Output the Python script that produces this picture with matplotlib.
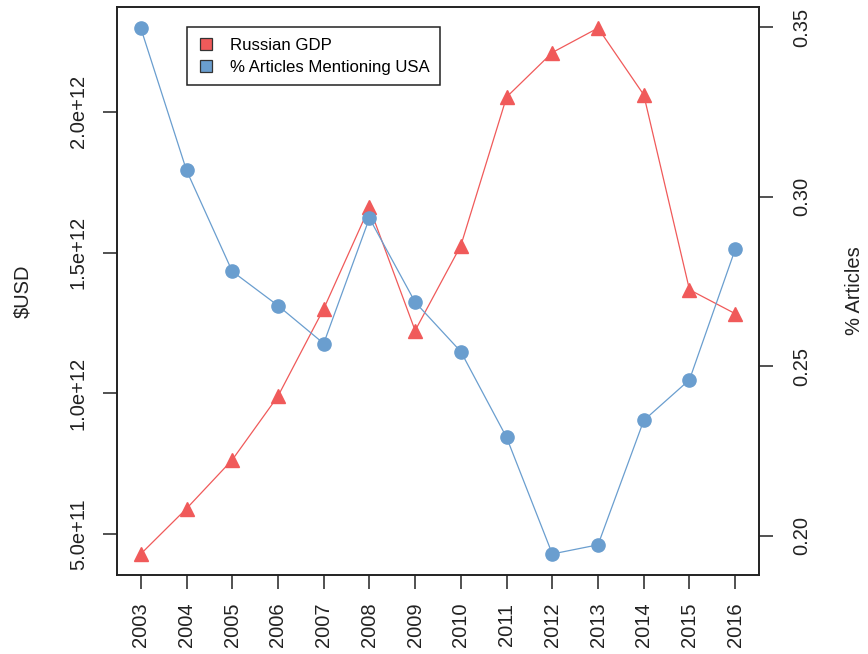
import matplotlib
matplotlib.use("Agg")
import matplotlib.pyplot as plt
from matplotlib.lines import Line2D

plt.rcParams['font.family'] = ['Liberation Sans', 'DejaVu Sans']

years = [2003, 2004, 2005, 2006, 2007, 2008, 2009,
         2010, 2011, 2012, 2013, 2014, 2015, 2016]
gdp_usd = [0.430e12, 0.591e12, 0.764e12, 0.990e12, 1.300e12, 1.661e12, 1.223e12,
           1.525e12, 2.052e12, 2.210e12, 2.297e12, 2.060e12, 1.368e12, 1.283e12]
pct_usa = [0.3498, 0.3078, 0.2780, 0.2679, 0.2567, 0.2937, 0.2689,
           0.2543, 0.2290, 0.1946, 0.1973, 0.2340, 0.2460, 0.2845]

gdp_ticks = [5.0e11, 1.0e12, 1.5e12, 2.0e12]
gdp_labels = ["5.0e+11", "1.0e+12", "1.5e+12", "2.0e+12"]
pct_ticks = [0.20, 0.25, 0.30, 0.35]
pct_labels = ["0.20", "0.25", "0.30", "0.35"]

red = "#F05A5A"
blue = "#6A9ECF"
ink = "#222222"

fig = plt.figure(figsize=(8.68, 6.54), dpi=100)
ax = fig.add_axes([0.1348, 0.1208, 0.7396, 0.8685])
ax2 = ax.twinx()

ax.plot(years, gdp_usd, color=red, lw=0.9, marker="^", ms=9.5, mec=red, mfc=red)
ax2.plot(years, pct_usa, color=blue, lw=0.9, marker="o", ms=9.5, mec=blue, mfc=blue)

# R-style 4% padding around the data
def padded(lo, hi):
    d = (hi - lo) * 0.04
    return lo - d, hi + d

ax.set_xlim(*padded(min(years), max(years)))
ax.set_ylim(*padded(min(gdp_usd), max(gdp_usd)))
ax2.set_ylim(*padded(min(pct_usa), max(pct_usa)))

ax.set_xticks(years)
ax.set_xticklabels([str(y) for y in years], rotation=90)
ax.set_yticks(gdp_ticks)
ax.set_yticklabels(gdp_labels)
ax2.set_yticks(pct_ticks)
ax2.set_yticklabels(pct_labels)

for a in (ax, ax2):
    for s in a.spines.values():
        s.set_linewidth(1.2)
        s.set_color(ink)
    a.tick_params(length=10, width=1.1, color=ink, labelsize=14.5, labelcolor=ink)

ax.tick_params(axis="x", pad=10)
ax.tick_params(axis="y", pad=11)
ax2.tick_params(axis="y", pad=14)
for lab in ax.get_yticklabels() + ax2.get_yticklabels():
    lab.set_rotation(90)
    lab.set_va("center")

ax.set_ylabel(r"\$USD", fontsize=14.5, color=ink, labelpad=26)
ax2.set_ylabel("% Articles", fontsize=14.5, color=ink, labelpad=24)

handles = [
    Line2D([], [], ls="", marker="s", ms=9, mfc=red, mec="#333333", mew=0.9),
    Line2D([], [], ls="", marker="s", ms=9, mfc=blue, mec="#333333", mew=0.9),
]
leg = ax2.legend(handles, ["Russian GDP", "% Articles Mentioning USA"],
                 loc="upper left", bbox_to_anchor=(0.109, 0.965), borderaxespad=0,
                 fontsize=12.1, frameon=True, fancybox=False, framealpha=1,
                 edgecolor=ink, handlelength=1.0, handletextpad=0.9,
                 labelspacing=0.4, borderpad=0.65)
leg.get_frame().set_linewidth(1.1)

fig.savefig("out.png", dpi=100)
